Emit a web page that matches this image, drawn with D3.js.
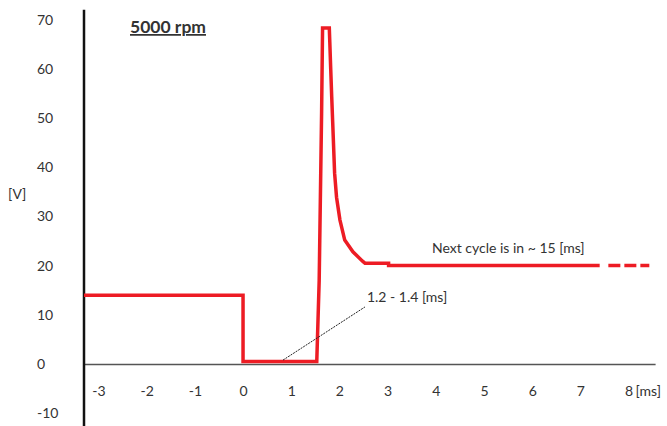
<!DOCTYPE html>
<html>
<head>
<meta charset="utf-8">
<script src="https://cdn.jsdelivr.net/npm/d3@7"></script>
<style>
  body { margin: 0; background: #fff; }
  text { font-family: Lato, "Open Sans", sans-serif; fill: #333; }
</style>
</head>
<body>
<svg id="chart" width="667" height="426"></svg>
<script>
// ignition voltage trace, time in ms, voltage in V
const pulseTime = [-3.3, 0, 0, 1.53, 1.58, 1.63, 1.65, 1.79, 1.80, 1.82, 1.84, 1.86, 1.90, 1.94, 2.01, 2.11, 2.28, 2.48, 2.53, 3.02, 3.02, 7.4]
const pulseVolt = [14, 14, 0.5, 0.5, 17, 51, 68.3, 68.3, 65.5, 59.8, 54.3, 49.2, 38.8, 33.9, 29.3, 25.2, 22.8, 20.9, 20.5, 20.5, 20.0, 20.0]
// dashed continuation
const tailTime = [7.58, 8.43]
const tailVolt = [20.0, 20.0]

const xTicks = [-3, -2, -1, 0, 1, 2, 3, 4, 5, 6, 7, 8]
const yTicks = [-10, 0, 10, 20, 30, 40, 50, 60, 70]

const svg = d3.select('#chart')

const xScale = d3.scaleLinear([-3.3, 8.55], [84, 655.1])
const yScale = d3.scaleLinear([-12.6, 72], [426, 9.8])

// x axis along V = 0
const xAxis = d3.axisBottom(xScale)
  .tickValues(xTicks)
  .tickFormat(d => String(d))
  .tickSize(0)
  .tickPadding(22)
const gx = svg.append('g')
  .attr('transform', `translate(0, ${yScale(0)})`)
  .call(xAxis)
gx.select('.domain').attr('stroke', '#555').attr('stroke-width', 1.5)
gx.selectAll('text').attr('font-size', 14).attr('fill', '#333').attr('font-family', 'Lato')

svg.append('text')
  .attr('x', xScale(8) + 7)
  .attr('y', yScale(0) + 22)
  .attr('dy', '0.71em')
  .attr('font-size', 14)
  .text('[ms]')

// y axis
svg.append('line')
  .attr('x1', xScale(-3.3)).attr('x2', xScale(-3.3))
  .attr('y1', yScale(72)).attr('y2', yScale(-12.6))
  .attr('stroke', '#111').attr('stroke-width', 2.5)

svg.append('g').selectAll('text')
  .data(yTicks)
  .join('text')
  .attr('x', 37)
  .attr('y', d => yScale(d) + 5)
  .attr('font-size', 14)
  .text(d => d)

svg.append('text')
  .attr('x', 8).attr('y', 199)
  .attr('font-size', 14)
  .text('[V]')

// title
svg.append('text')
  .attr('x', 130).attr('y', 33)
  .attr('font-size', 17.5).attr('font-weight', 'bold')
  .attr('text-decoration', 'underline')
  .attr('fill', '#111')
  .text('5000 rpm')

const line = d3.line()
  .x(d => xScale(d[0]))
  .y(d => yScale(d[1]))

svg.append('path')
  .attr('d', line(d3.zip(pulseTime, pulseVolt)))
  .attr('fill', 'none')
  .attr('stroke', '#ed1c24')
  .attr('stroke-width', 3.5)

svg.append('path')
  .attr('d', line(d3.zip(tailTime, tailVolt)))
  .attr('fill', 'none')
  .attr('stroke', '#ed1c24')
  .attr('stroke-width', 3.5)
  .attr('stroke-dasharray', '12 4')

// annotations
svg.append('line')
  .attr('x1', xScale(0.83)).attr('y1', yScale(0.8))
  .attr('x2', xScale(2.53)).attr('y2', yScale(11.6))
  .attr('stroke', '#222').attr('stroke-width', 1)
  .attr('stroke-dasharray', '2 1')

svg.append('text')
  .attr('x', xScale(2.57)).attr('y', yScale(13.6) + 5)
  .attr('font-size', 14)
  .text('1.2 - 1.4 [ms]')

svg.append('text')
  .attr('x', xScale(3.92)).attr('y', yScale(23.6) + 5)
  .attr('font-size', 14)
  .text('Next cycle is in ~ 15 [ms]')
</script>
</body>
</html>
